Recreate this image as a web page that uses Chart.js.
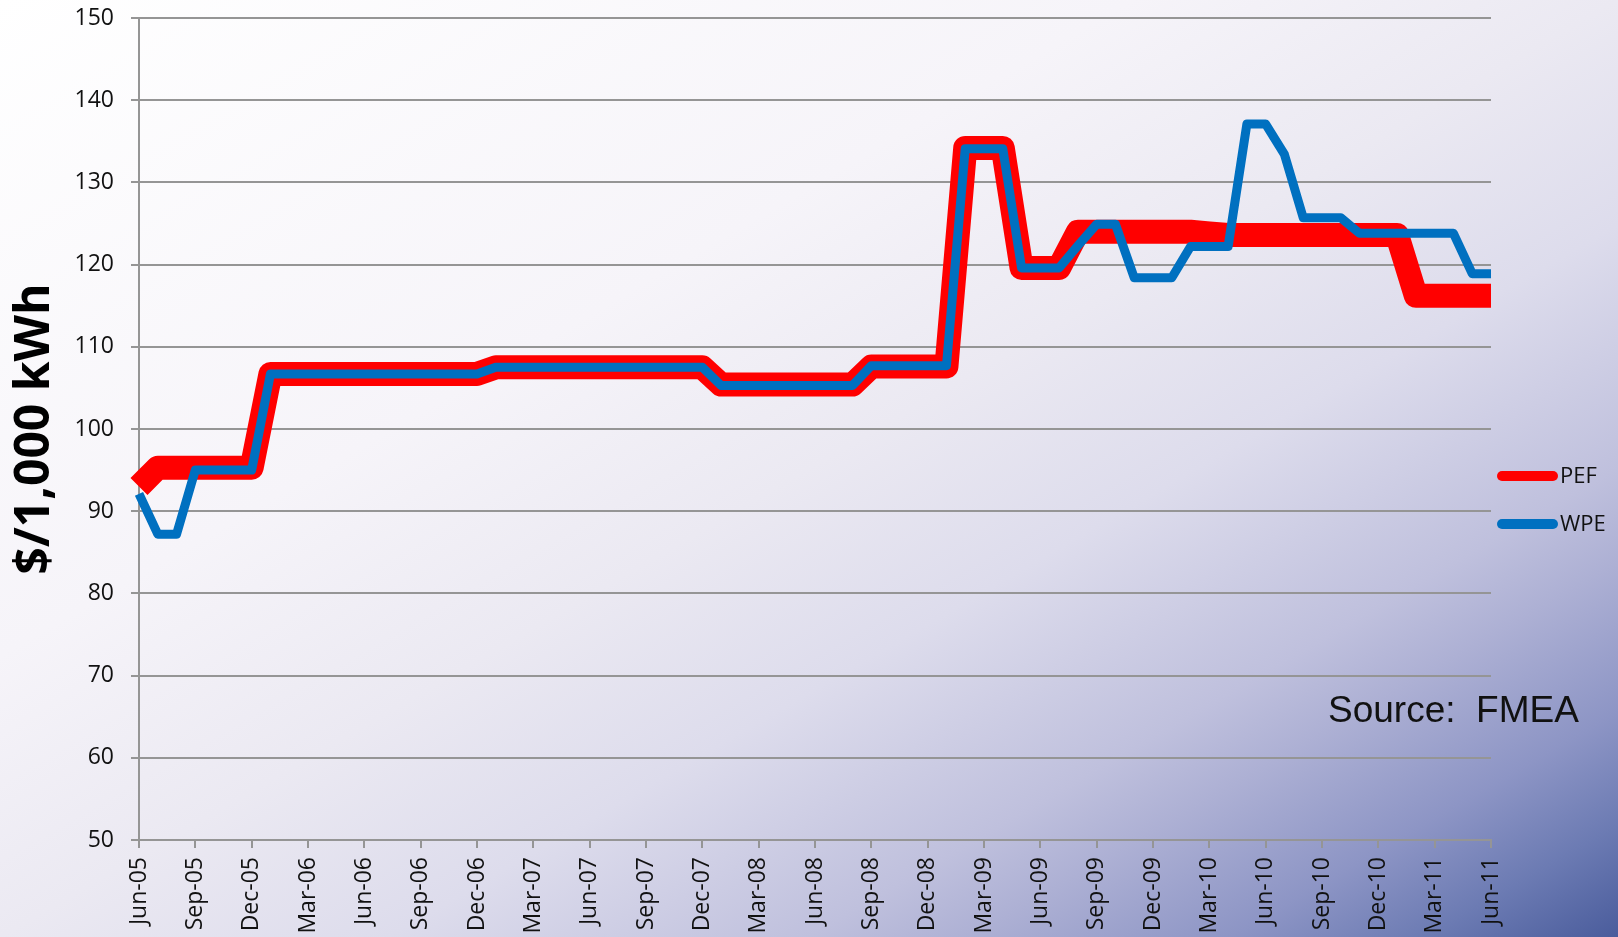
<!DOCTYPE html>
<html>
<head>
<meta charset="utf-8">
<title>PEF vs WPE</title>
<script src="https://cdn.jsdelivr.net/npm/chart.js@4.4.0/dist/chart.umd.min.js"></script>
<style>
  html, body { margin: 0; padding: 0; }
  body {
    width: 1618px; height: 937px; overflow: hidden;
    background: linear-gradient(to bottom right,
      #ffffff 0%, #f6f4f9 35%, #ebe9f2 50%, #dddcec 62%,
      #bfc0dd 75%, #adb0d4 80%, #8d95c5 88%, #6c7bb3 94%, #4a5c9c 100%);
  }
  canvas { display: block; }
</style>
</head>
<body>
<canvas id="rateChart" width="1618" height="937"></canvas>
<script>
// categorias: meses jun-05 .. jun-11
const months = [
  'Jun-05', 'Jul-05', 'Aug-05', 'Sep-05', 'Oct-05', 'Nov-05', 'Dec-05',
  'Jan-06', 'Feb-06', 'Mar-06', 'Apr-06', 'May-06', 'Jun-06', 'Jul-06', 'Aug-06', 'Sep-06', 'Oct-06', 'Nov-06', 'Dec-06',
  'Jan-07', 'Feb-07', 'Mar-07', 'Apr-07', 'May-07', 'Jun-07', 'Jul-07', 'Aug-07', 'Sep-07', 'Oct-07', 'Nov-07', 'Dec-07',
  'Jan-08', 'Feb-08', 'Mar-08', 'Apr-08', 'May-08', 'Jun-08', 'Jul-08', 'Aug-08', 'Sep-08', 'Oct-08', 'Nov-08', 'Dec-08',
  'Jan-09', 'Feb-09', 'Mar-09', 'Apr-09', 'May-09', 'Jun-09', 'Jul-09', 'Aug-09', 'Sep-09', 'Oct-09', 'Nov-09', 'Dec-09',
  'Jan-10', 'Feb-10', 'Mar-10', 'Apr-10', 'May-10', 'Jun-10', 'Jul-10', 'Aug-10', 'Sep-10', 'Oct-10', 'Nov-10', 'Dec-10',
  'Jan-11', 'Feb-11', 'Mar-11', 'Apr-11', 'May-11', 'Jun-11'
];

// $/1,000 kWh
const pefRates = [
  93.0, 95.3, 95.3, 95.3, 95.3, 95.3, 95.3,
  106.7, 106.7, 106.7, 106.7, 106.7, 106.7, 106.7, 106.7, 106.7, 106.7, 106.7, 106.7,
  107.5, 107.5, 107.5, 107.5, 107.5, 107.5, 107.5, 107.5, 107.5, 107.5, 107.5, 107.5,
  105.4, 105.4, 105.4, 105.4, 105.4, 105.4, 105.4, 105.4, 107.6, 107.6, 107.6, 107.6,
  107.6, 134.2, 134.2, 134.2, 119.6, 119.6, 119.6, 124.0, 124.0, 124.0, 124.0, 124.0,
  124.0, 124.0, 123.8, 123.6, 123.6, 123.6, 123.6, 123.6, 123.6, 123.6, 123.6, 123.6,
  123.6, 116.2, 116.2, 116.2, 116.2, 116.2
];

const wpeRates = [
  92.1, 87.2, 87.2, 95.0, 95.0, 95.0, 95.0,
  106.7, 106.7, 106.7, 106.7, 106.7, 106.7, 106.7, 106.7, 106.7, 106.7, 106.7, 106.7,
  107.5, 107.5, 107.5, 107.5, 107.5, 107.5, 107.5, 107.5, 107.5, 107.5, 107.5, 107.5,
  105.3, 105.3, 105.3, 105.3, 105.3, 105.3, 105.3, 105.3, 107.7, 107.7, 107.7, 107.7,
  107.7, 134.1, 134.1, 134.1, 119.6, 119.6, 119.6, 122.3, 124.9, 124.9, 118.4, 118.4,
  118.4, 122.2, 122.2, 122.2, 137.1, 137.1, 133.4, 125.7, 125.7, 125.7, 123.8, 123.8,
  123.8, 123.8, 123.8, 123.8, 118.9, 118.9
];

const yMin = 50, yMax = 150, yStep = 10;

const gridGray = '#959595';
const tickFont = { family: '"Open Sans", sans-serif', size: 23 };

// leyenda lateral + fuente
const sideLegend = {
  id: 'sideLegend',
  afterDraw(chart) {
    const ctx = chart.ctx;
    ctx.save();
    chart.data.datasets.forEach((ds, i) => {
      const y = 476 + i * 48;
      ctx.strokeStyle = ds.borderColor;
      ctx.lineWidth = 10;
      ctx.lineCap = 'round';
      ctx.beginPath();
      ctx.moveTo(1502, y);
      ctx.lineTo(1553, y);
      ctx.stroke();
      ctx.fillStyle = '#111';
      ctx.font = '22px "Open Sans", sans-serif';
      ctx.textBaseline = 'middle';
      ctx.fillText(ds.label, 1560, y + 1);
    });
    ctx.fillStyle = '#111';
    ctx.font = '37px "Liberation Sans", Arial, sans-serif';
    ctx.textBaseline = 'alphabetic';
    ctx.fillText('Source:  FMEA', 1328, 722);
    ctx.restore();
  }
};

new Chart(document.getElementById('rateChart').getContext('2d'), {
  type: 'line',
  data: {
    labels: months,
    datasets: [
      {
        label: 'PEF',
        data: pefRates,
        borderColor: '#ff0000',
        borderWidth: 24,
        borderJoinStyle: 'round',
        borderCapStyle: 'butt',
        pointRadius: 0,
        tension: 0,
        fill: false,
        order: 2
      },
      {
        label: 'WPE',
        data: wpeRates,
        borderColor: '#0070c0',
        borderWidth: 9,
        borderJoinStyle: 'round',
        borderCapStyle: 'butt',
        pointRadius: 0,
        tension: 0,
        fill: false,
        order: 1
      }
    ]
  },
  options: {
    responsive: false,
    animation: false,
    devicePixelRatio: 1,
    layout: { padding: { top: 18, right: 127, bottom: 0, left: 0 } },
    plugins: {
      legend: { display: false },
      tooltip: { enabled: false }
    },
    scales: {
      x: {
        grid: {
          drawOnChartArea: false,
          drawTicks: true,
          tickLength: 8,
          color: gridGray,
          lineWidth: 2
        },
        border: { display: true, color: gridGray, width: 2 },
        ticks: {
          autoSkip: false,
          maxRotation: 90,
          minRotation: 90,
          padding: 9,
          color: '#111',
          font: tickFont,
          callback: function (value, index) {
            return index % 3 === 0 ? this.getLabelForValue(value) : null;
          }
        },
        afterFit: scale => {
          scale.height = 97;
          scale.paddingTop = 0;
        }
      },
      y: {
        min: yMin,
        max: yMax,
        grid: { color: gridGray, lineWidth: 2, tickLength: 8 },
        border: { display: true, color: gridGray, width: 2 },
        ticks: { stepSize: yStep, padding: 17, color: '#111', font: tickFont },
        title: {
          display: true,
          text: '$/1,000 kWh',
          color: '#000',
          font: { family: '"Open Sans", sans-serif', size: 48, weight: 'bold' },
          padding: { top: 7, bottom: 0 }
        },
        afterFit: scale => {
          scale.width = 139;
          scale.paddingTop = 0;
        }
      }
    }
  },
  plugins: [sideLegend]
});
</script>
</body>
</html>
